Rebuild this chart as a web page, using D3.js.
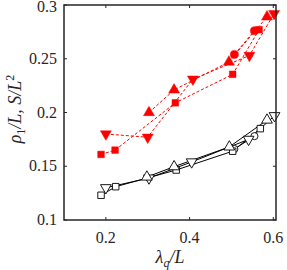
<!DOCTYPE html>
<html>
<head>
<meta charset="utf-8">
<script src="https://cdn.jsdelivr.net/npm/d3@7"></script>
<style>
  body { margin: 0; background: #fff; }
  text { font-family: "Liberation Serif", "DejaVu Serif", serif; fill: #262626; }
</style>
</head>
<body>
<div class="chart"></div>
<script>
// chart data
var redSqX = [0.1885, 0.222, 0.366, 0.503, 0.566];
var redSqY = [0.161, 0.165, 0.209, 0.2355, 0.277];
var redDnX = [0.2, 0.3, 0.408, 0.543, 0.602];
var redDnY = [0.180, 0.177, 0.231, 0.253, 0.292];
var redUpX = [0.303, 0.363, 0.494, 0.585];
var redUpY = [0.200, 0.221, 0.247, 0.289];
var redCiX = [0.507, 0.555];
var redCiY = [0.254, 0.276];

var blkSqX = [0.1885, 0.2235, 0.368, 0.503, 0.569];
var blkSqY = [0.123, 0.131, 0.1465, 0.164, 0.185];
var blkDnX = [0.2, 0.303, 0.405, 0.541, 0.603];
var blkDnY = [0.130, 0.139, 0.154, 0.175, 0.197];
var blkUpX = [0.298, 0.363, 0.495, 0.585];
var blkUpY = [0.140, 0.1496, 0.168, 0.193];
var blkCiX = [0.507, 0.555];
var blkCiY = [0.166, 0.178];

var xTicks = [0.2, 0.4, 0.6];
var yTicks = [0.1, 0.15, 0.2, 0.25, 0.3];

var w = 287, h = 270;
var pLeft = 64, pRight = 276, pTop = 5, pBottom = 220;

var svg = d3.select(".chart").append("svg")
  .attr("width", w).attr("height", h);

var x = d3.scaleLinear().domain([0.1, 0.6065]).range([pLeft, pRight]);
var y = d3.scaleLinear().domain([0.1, 0.3]).range([pBottom, pTop]);

function zip(xs, ys) { return xs.map(function(v, i) { return [v, ys[i]]; }); }

var series = [
  { pts: zip(redCiX, redCiY), sym: d3.symbolCircle, size: 52, color: "#ff0000", fill: true },
  { pts: zip(redSqX, redSqY), sym: d3.symbolSquare, size: 44, color: "#ff0000", fill: true },
  { pts: zip(redDnX, redDnY), sym: d3.symbolTriangle, size: 52, color: "#ff0000", fill: true, flip: true },
  { pts: zip(redUpX, redUpY), sym: d3.symbolTriangle, size: 52, color: "#ff0000", fill: true },
  { pts: zip(blkCiX, blkCiY), sym: d3.symbolCircle, size: 40, color: "#000", fill: false },
  { pts: zip(blkSqX, blkSqY), sym: d3.symbolSquare, size: 42, color: "#000", fill: false },
  { pts: zip(blkDnX, blkDnY), sym: d3.symbolTriangle, size: 50, color: "#000", fill: false, flip: true },
  { pts: zip(blkUpX, blkUpY), sym: d3.symbolTriangle, size: 50, color: "#000", fill: false }
];

var line = d3.line().x(function(d) { return x(d[0]); }).y(function(d) { return y(d[1]); });

// lines first
series.forEach(function(s) {
  svg.append("path")
    .attr("d", line(s.pts))
    .attr("fill", "none")
    .attr("stroke", s.color)
    .attr("stroke-width", 1)
    .attr("stroke-dasharray", s.fill ? "3,2" : null);
});

// markers
series.forEach(function(s) {
  svg.selectAll(null)
    .data(s.pts)
    .enter()
    .append("path")
    .attr("d", d3.symbol().type(s.sym).size(s.size))
    .attr("transform", function(d) {
      return "translate(" + x(d[0]) + "," + y(d[1]) + ")" + (s.flip ? " rotate(180)" : "");
    })
    .attr("fill", s.fill ? s.color : "#fff")
    .attr("stroke", s.color)
    .attr("stroke-width", s.fill ? 0.5 : 0.9);
});

// axes, ticks inward on all sides
var ax = svg.append("g").attr("stroke", "#262626").attr("stroke-width", 1);
xTicks.forEach(function(t) {
  ax.append("line").attr("x1", x(t)).attr("x2", x(t)).attr("y1", pBottom).attr("y2", pBottom - 3);
  ax.append("line").attr("x1", x(t)).attr("x2", x(t)).attr("y1", pTop).attr("y2", pTop + 3);
});
yTicks.forEach(function(t) {
  ax.append("line").attr("y1", y(t)).attr("y2", y(t)).attr("x1", pLeft).attr("x2", pLeft + 3);
  ax.append("line").attr("y1", y(t)).attr("y2", y(t)).attr("x1", pRight).attr("x2", pRight - 3);
});
svg.append("rect")
  .attr("x", pLeft).attr("y", pTop)
  .attr("width", pRight - pLeft).attr("height", pBottom - pTop)
  .attr("fill", "none").attr("stroke", "#262626").attr("stroke-width", 1.5);

svg.selectAll(".xt").data(xTicks).enter().append("text")
  .attr("x", function(d) { return x(d); })
  .attr("y", 243)
  .attr("text-anchor", "middle")
  .attr("font-size", 16)
  .text(function(d) { return d3.format("")(d); });

svg.selectAll(".yt").data(yTicks).enter().append("text")
  .attr("x", 57)
  .attr("y", function(d) { return Math.max(y(d) + 5, 12); })
  .attr("text-anchor", "end")
  .attr("font-size", 16)
  .text(function(d) { return d3.format("")(d); });

// axis labels
var xl = svg.append("text")
  .attr("x", 170).attr("y", 263)
  .attr("text-anchor", "middle")
  .attr("font-size", 18);
xl.append("tspan").attr("font-style", "italic").text("λ");
xl.append("tspan").attr("font-style", "italic").attr("font-size", 12).attr("dy", 4).text("q");
xl.append("tspan").attr("font-style", "italic").attr("dy", -4).text("/L");

var yl = svg.append("text")
  .attr("transform", "translate(21,109) rotate(-90)")
  .attr("text-anchor", "middle")
  .attr("font-size", 18);
yl.append("tspan").attr("font-style", "italic").text("ρ");
yl.append("tspan").attr("font-size", 12).attr("dy", 4).text("1");
yl.append("tspan").attr("font-style", "italic").attr("dy", -4).text("/L, S/L");
yl.append("tspan").attr("font-size", 12).attr("dy", -7).text("2");
</script>
</body>
</html>
